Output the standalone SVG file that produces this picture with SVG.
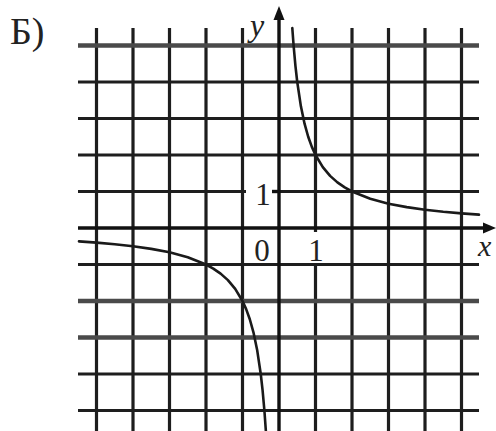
<svg xmlns="http://www.w3.org/2000/svg" width="496" height="431" viewBox="0 0 496 431">
<style>
.g{stroke:#1e1e1e;stroke-width:3.2;fill:none}
.gs{stroke:#4a4a4a;stroke-width:4.6;fill:none}
.ax{stroke:#111;stroke-width:3.4;fill:none}
.cv{stroke:#1a1a1a;stroke-width:2.6;fill:none;stroke-linejoin:round;stroke-linecap:round}
.t{font-family:"Liberation Serif","Times New Roman",serif;fill:#222}
.i{font-style:italic}
</style>
<rect width="496" height="431" fill="#ffffff"/>
<g id="grid">
<g id="vlines">
<line class="g" x1="96.5" y1="28" x2="96.5" y2="431"/>
<line class="g" x1="133" y1="28" x2="133" y2="431"/>
<line class="g" x1="169.5" y1="28" x2="169.5" y2="431"/>
<line class="g" x1="206" y1="28" x2="206" y2="431"/>
<line class="g" x1="242.5" y1="28" x2="242.5" y2="431"/>
<line class="g" x1="315.5" y1="28" x2="315.5" y2="431"/>
<line class="g" x1="352" y1="28" x2="352" y2="431"/>
<line class="g" x1="388.5" y1="28" x2="388.5" y2="431"/>
<line class="g" x1="425" y1="28" x2="425" y2="431"/>
<line class="g" x1="461.5" y1="28" x2="461.5" y2="431"/>
</g>
<g id="hlines">
<line class="gs" x1="78" y1="45.5" x2="479" y2="45.5"/>
<line class="g" x1="78" y1="82" x2="479" y2="82"/>
<line class="g" x1="78" y1="118.5" x2="479" y2="118.5"/>
<line class="g" x1="78" y1="155" x2="479" y2="155"/>
<line class="g" x1="78" y1="191.5" x2="479" y2="191.5"/>
<line class="g" x1="78" y1="264.5" x2="479" y2="264.5"/>
<line class="gs" x1="78" y1="301" x2="479" y2="301"/>
<line class="gs" x1="78" y1="337.5" x2="479" y2="337.5"/>
<line class="g" x1="78" y1="374" x2="479" y2="374"/>
<line class="g" x1="78" y1="410.5" x2="479" y2="410.5"/>
</g>
</g>
<g id="label-boxes" fill="#ffffff">
<rect x="246" y="178" width="27" height="30"/>
<rect x="298" y="232" width="32" height="31"/>
</g>
<g id="axes">
<line class="ax" x1="279" y1="14" x2="279" y2="431"/>
<line class="ax" x1="78" y1="228" x2="488" y2="228"/>
<line class="ax" x1="272" y1="191.5" x2="279" y2="191.5"/>
<polygon points="279,6 273.5,20 284.5,20" fill="#111"/>
<polygon points="496,228 483,222.5 483,233.5" fill="#111"/>
</g>
<g id="curves">
<polyline class="cv" points="292.3,28 293.6,45.5 295.43,65.8 297.25,82 300.9,106.33 304.55,123.71 308.2,136.75 311.85,146.89 315.5,155 322.8,167.17 330.1,175.86 337.4,182.37 344.7,187.44 352,191.5 370.25,198.8 388.5,203.67 406.75,207.14 425,209.75 443.25,211.78 461.5,213.4 479,214.67"/>
<polyline class="cv" points="79,241.33 96.5,242.6 114.75,244.22 133,246.25 151.25,248.86 169.5,252.33 187.75,257.2 206,264.5 213.3,268.56 220.6,273.63 227.9,280.14 235.2,288.83 242.5,301 246.15,309.11 249.8,319.25 253.45,332.29 257.1,349.67 260.75,374 262.57,390.2 264.4,410.5 265.97,432.5"/>
</g>
<g id="labels">
<text class="t" x="10" y="44" font-size="38">Б)</text>
<text class="t i" x="250" y="36" font-size="32">y</text>
<text class="t" x="263" y="205" font-size="31" text-anchor="middle">1</text>
<text class="t" x="262" y="261" font-size="31" text-anchor="middle">0</text>
<text class="t" x="316" y="261" font-size="31" text-anchor="middle">1</text>
<text class="t i" x="478" y="256" font-size="30">x</text>
</g>
</svg>
